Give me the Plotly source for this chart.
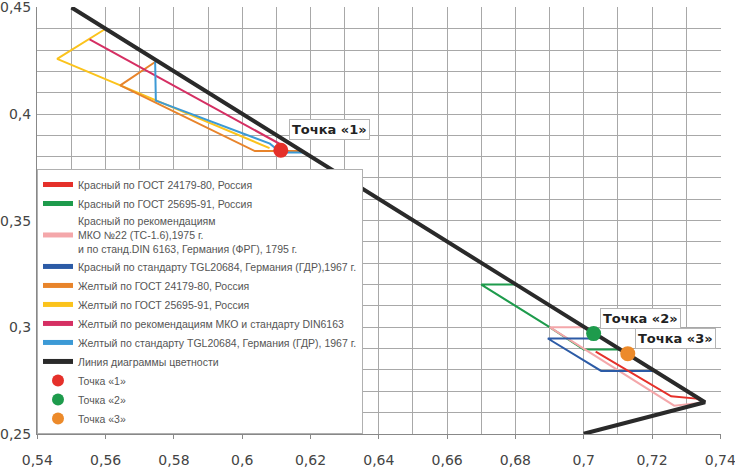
import plotly.graph_objects as go

# Линии областей цветности (x, y)
red_x = [0.7035, 0.7256, 0.7330, 0.7355]
red_y = [0.2885, 0.2676, 0.2665, 0.2648]

green_x = [0.6803, 0.6700, 0.6900, 0.7000, 0.7107]
green_y = [0.3200, 0.3200, 0.3000, 0.2895, 0.2895]

pink_x = [0.7008, 0.6900, 0.7265, 0.7340]
pink_y = [0.3000, 0.3000, 0.2632, 0.2645]

blue_x = [0.7020, 0.6895, 0.7051, 0.7205]
blue_y = [0.2947, 0.2947, 0.2795, 0.2795]

orange_x = [0.5745, 0.5643, 0.6037, 0.6179]
orange_y = [0.4244, 0.4134, 0.3826, 0.3826]

yellow_x = [0.5600, 0.5458, 0.5643, 0.6080]
yellow_y = [0.4400, 0.4259, 0.4134, 0.3840]

magenta_x = [0.5553, 0.6113]
magenta_y = [0.4350, 0.3857]

lightblue_x = [0.5745, 0.5747, 0.6081, 0.6113, 0.6185]
lightblue_y = [0.4245, 0.4063, 0.3861, 0.3819, 0.3819]

locus_x = [0.5500, 0.7355, 0.7000]
locus_y = [0.4500, 0.2648, 0.2500]

# Точки
points_x = [0.6113, 0.7029, 0.7129]
points_y = [0.3830, 0.2970, 0.2876]
points_names = ["Точка «1»", "Точка «2»", "Точка «3»"]
points_colors = ["#e5302a", "#1e9b4c", "#ec8a2a"]

# Подписи осей
x_ticks = [0.54, 0.56, 0.58, 0.60, 0.62, 0.64, 0.66, 0.68, 0.70, 0.72, 0.74]
x_labels = ["0,54", "0,56", "0,58", "0,6", "0,62", "0,64", "0,66", "0,68", "0,7", "0,72", "0,74"]
y_ticks = [0.25, 0.30, 0.35, 0.40, 0.45]
y_labels = ["0,25", "0,3", "0,35", "0,4", "0,45"]

# (x, y, цвет, подпись, порядок в легенде) - в порядке отрисовки
lines = [
    (green_x, green_y, "#1e9b4c", "Красный по ГОСТ 25695-91, Россия", 2),
    (pink_x, pink_y, "#f4a7aa", "Красный по рекомендациям<br>МКО №22 (ТС-1.6),1975 г.<br>и по станд.DIN 6163, Германия (ФРГ), 1795 г.", 3),
    (blue_x, blue_y, "#2c5ba6", "Красный по стандарту TGL20684, Германия (ГДР),1967 г.", 4),
    (red_x, red_y, "#e5302a", "Красный по ГОСТ 24179-80, Россия", 1),
    (yellow_x, yellow_y, "#fbc31c", "Желтый по ГОСТ 25695-91, Россия", 6),
    (orange_x, orange_y, "#e8842b", "Желтый по ГОСТ 24179-80, Россия", 5),
    (magenta_x, magenta_y, "#d52f63", "Желтый по рекомендациям МКО и стандарту DIN6163", 7),
    (lightblue_x, lightblue_y, "#3c9ad6", "Желтый по стандарту TGL20684, Германия (ГДР), 1967 г.", 8),
    (locus_x, locus_y, "#2a2a2a", "Линия диаграммы цветности", 9),
]

fig = go.Figure()

for xs, ys, color, name, rank in lines:
    width = 4 if rank == 9 else 2
    fig.add_trace(go.Scatter(x=xs, y=ys, mode="lines", name=name, legendrank=rank,
                             line=dict(color=color, width=width)))

for i in range(3):
    fig.add_trace(go.Scatter(x=[points_x[i]], y=[points_y[i]], mode="markers",
                             name=points_names[i], legendrank=10 + i,
                             marker=dict(color=points_colors[i], size=15)))

# подписи точек
label_pos = [(0.6255, 0.3928), (0.7166, 0.3040), (0.7268, 0.2946)]
for (lx, ly), txt in zip(label_pos, points_names):
    fig.add_annotation(x=lx, y=ly, text="<b>" + txt + "</b>", showarrow=False,
                       font=dict(family="DejaVu Sans", size=13, color="#222"),
                       bgcolor="white", bordercolor="#b5b5b5", borderwidth=1, borderpad=2)

grid = "#a8a8a8"
fig.update_xaxes(range=[0.5399, 0.7402], tickmode="array", tickvals=x_ticks, ticktext=x_labels,
                 showgrid=True, gridcolor=grid, gridwidth=1,
                 minor=dict(dtick=0.01, tick0=0.54, showgrid=True, gridcolor=grid, gridwidth=1),
                 showline=True, linecolor="#888", zeroline=False, automargin=False,
                 ticks="outside", ticklen=4, tickcolor="#888", ticklabelstandoff=9,
                 ticklabeloverflow="allow",
                 tickfont=dict(family="DejaVu Sans", size=14, color="#444"))
fig.update_yaxes(range=[0.2499, 0.4502], tickmode="array", tickvals=y_ticks, ticktext=y_labels,
                 showgrid=True, gridcolor=grid, gridwidth=1,
                 minor=dict(dtick=0.01, tick0=0.25, showgrid=True, gridcolor=grid, gridwidth=1),
                 showline=True, linecolor="#888", zeroline=False, automargin=False,
                 ticks="", ticklabelstandoff=2, ticklabeloverflow="allow",
                 tickfont=dict(family="DejaVu Sans", size=14, color="#444"))

fig.update_layout(
    width=735, height=473,
    margin=dict(l=37, r=14, t=7, b=39),
    plot_bgcolor="white", paper_bgcolor="white",
    font=dict(family="DejaVu Sans"),
    legend=dict(x=0, y=0, xanchor="left", yanchor="bottom",
                bgcolor="white", bordercolor="#b0b0b0", borderwidth=1,
                font=dict(family="Liberation Sans", size=10.5, color="#555"),
                tracegroupgap=0, itemwidth=30, itemsizing="constant"),
)

# убрать стандартный отступ страницы
fig.write_html("out.html", config={"displayModeBar": False},
               post_script="document.body.style.margin='0';")
